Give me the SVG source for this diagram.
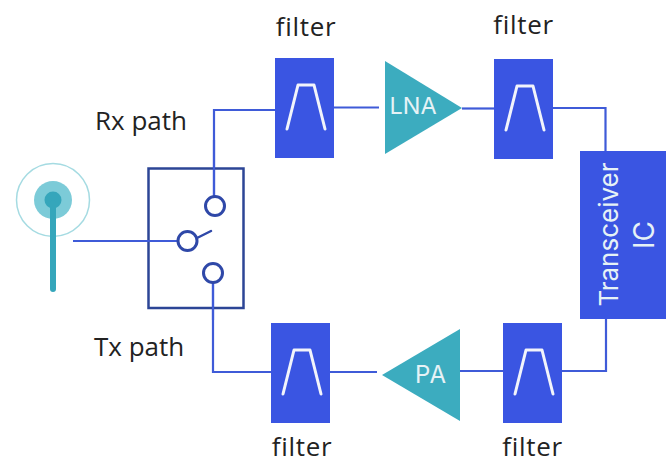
<svg xmlns="http://www.w3.org/2000/svg" width="666" height="464" viewBox="0 0 666 464">
<style>
.box{fill:#3a55e2}
.curve{fill:none;stroke:#f2f4fb;stroke-width:3;stroke-linecap:round;stroke-linejoin:round}
.amp{fill:#3cacbf}
.wire{fill:none;stroke:#3f5bd8;stroke-width:2.200}
.sw{fill:#fff;stroke:#2f48a8;stroke-width:3}
.lbl{font-family:"Open Sans","Noto Sans",sans-serif;font-size:26px;fill:#222}
.fl{letter-spacing:.7px}
.in{font-family:"Inter","Noto Sans",sans-serif;fill:#e6f2f6}
</style>
<rect width="666" height="464" fill="#fff"/>
<g id="connectors">
<path class="wire" d="M214 196V110H275"/>
<path class="wire" d="M334 107.500H379"/>
<path class="wire" d="M462 108.500H494"/>
<path class="wire" d="M553 108H605.500V151"/>
<path class="wire" d="M606 319V371H562"/>
<path class="wire" d="M503 371H460"/>
<path class="wire" d="M377 372H330"/>
<path class="wire" d="M271 372H213V283"/>
</g>
<g id="antenna">
<circle cx="53" cy="200" r="36.500" fill="none" stroke="#a5dbe2" stroke-width="1.500"/>
<circle cx="53" cy="200" r="19" fill="#7ccbd8"/>
<circle cx="53" cy="200" r="8.500" fill="#35a6bb"/>
<path d="M53 203V289" fill="none" stroke="#35a6bb" stroke-width="6" stroke-linecap="round"/>
</g>
<g id="switch">
<rect x="148.500" y="168.500" width="95" height="139.500" fill="none" stroke="#2c4596" stroke-width="2.500"/>
<path class="wire" d="M73 241H177M214 140V196M213 283V320"/>
<circle class="sw" cx="215" cy="206" r="9.500"/>
<circle class="sw" cx="187.500" cy="241" r="9.500"/>
<circle class="sw" cx="213" cy="273" r="9.500"/>
<path d="M197 238L211 231" fill="none" stroke="#2f48a8" stroke-width="2.500" stroke-linecap="round"/>
</g>
<g id="filter-rx-1">
<rect class="box" x="275" y="58" width="59" height="100"/>
<path class="curve" d="M287 129L298 85H314L325 129"/>
<text class="lbl fl" x="306" y="36" text-anchor="middle">filter</text>
</g>
<g id="lna">
<path class="amp" d="M385 61V154L462 108Z"/>
<text class="in" x="413" y="114" font-size="23.500" text-anchor="middle">LNA</text>
</g>
<g id="filter-rx-2">
<rect class="box" x="494" y="59" width="59" height="100"/>
<path class="curve" d="M506 130L517 86H533L544 130"/>
<text class="lbl fl" x="523.500" y="34" text-anchor="middle">filter</text>
</g>
<g id="transceiver">
<rect class="box" x="580" y="151" width="86" height="168"/>
<text class="in" font-size="26" text-anchor="middle" transform="translate(618 234.500) rotate(-90)">Transceiver</text>
<text class="in" font-size="28" text-anchor="middle" transform="translate(654 235) rotate(-90)">IC</text>
</g>
<g id="filter-tx-2">
<rect class="box" x="503" y="323" width="59" height="100"/>
<path class="curve" d="M515 394L526 350H542L553 394"/>
<text class="lbl fl" x="532.500" y="456" text-anchor="middle">filter</text>
</g>
<g id="pa">
<path class="amp" d="M382 375L460 329V421Z"/>
<text class="in" x="431" y="383" font-size="24" letter-spacing="1" text-anchor="middle">PA</text>
</g>
<g id="filter-tx-1">
<rect class="box" x="271" y="323" width="59" height="100"/>
<path class="curve" d="M283 394L294 350H310L321 394"/>
<text class="lbl fl" x="302" y="456" text-anchor="middle">filter</text>
</g>
<text class="lbl" x="95" y="130">Rx path</text>
<text class="lbl" x="94" y="356">Tx path</text>
</svg>
